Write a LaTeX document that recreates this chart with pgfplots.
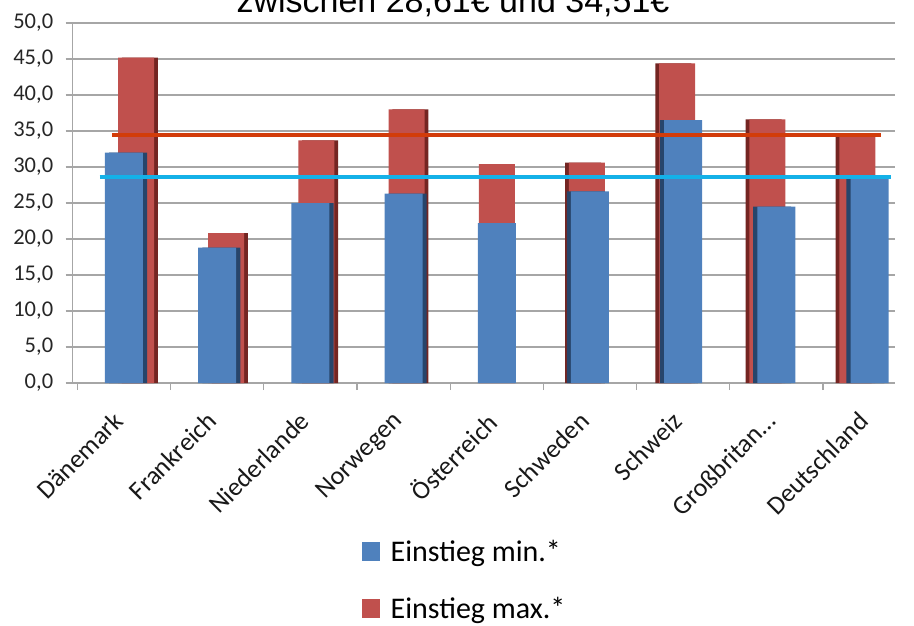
\documentclass[border=0pt]{standalone}
\usepackage{fontspec}
\setmainfont{Carlito}
\newfontfamily\titlefont{Liberation Sans}
\usepackage{pgfplots}
\pgfplotsset{compat=1.18}
\definecolor{barblue}{HTML}{4F81BD}
\definecolor{barbluedark}{HTML}{27456B}
\definecolor{barred}{HTML}{C0504D}
\definecolor{barreddark}{HTML}{742522}
\definecolor{linered}{HTML}{D23C0A}
\definecolor{linecyan}{HTML}{14B1E8}
\definecolor{gridgrey}{HTML}{A6A6A6}
\begin{document}
\begin{tikzpicture}[x=1pt,y=1pt]
\path[use as bounding box] (0,0) rectangle (914,625);
\node[font=\titlefont\fontsize{34}{40}\selectfont, anchor=base, inner sep=0pt] at (453,612) {zwischen 28,61€ und 34,51€};
\begin{axis}[
  at={(72.7pt,242pt)}, anchor=south west,
  scale only axis, width=822pt, height=360pt,
  xmin=-0.55, xmax=8.27, ymin=0, ymax=50,
  ytick={0,5,...,50},
  xtick={0,...,8},
  xticklabels={Dänemark, Frankreich, Niederlande, Norwegen, Österreich, Schweden, Schweiz, Großbritan…, Deutschland},
  minor xtick={-0.5,0.5,...,7.5},
  ymajorgrids, grid style={gridgrey, line width=1.3pt},
  axis x line*=bottom, axis y line*=left,
  axis line style={gridgrey, line width=1.3pt},
  tick align=outside, major tick length=7pt, minor tick length=7pt,
  tick style={gridgrey, line width=1.3pt},
  major x tick style={draw=none},
  /pgf/number format/assume math mode=true,
  yticklabel style={/pgf/number format/fixed, /pgf/number format/fixed zerofill, /pgf/number format/precision=1, /pgf/number format/use comma, font=\fontsize{22.5}{26}\selectfont, text=black!85, xshift=-9pt},
  xticklabel style={xshift=-12pt, yshift=-20pt, rotate=45, anchor=north east, font=\fontsize{26}{31}\selectfont, text=black!90, inner sep=0pt},
  legend style={at={(0.352,-0.43)}, anchor=north west, draw=none, fill=none, font=\fontsize{30}{36}\selectfont, row sep=30pt, inner sep=0pt, /tikz/every odd column/.append style={column sep=9pt}},
  legend cell align=left,
]
\addlegendimage{legend image code/.code={\fill[barblue] (0pt,-9pt) rectangle (17pt,9pt);}}
\addlegendentry{Einstieg min.*}
\addlegendimage{legend image code/.code={\fill[barred] (0pt,-9pt) rectangle (17pt,9pt);}}
\addlegendentry{Einstieg max.*}
% red bars: side faces then front faces
\addplot[ybar, bar shift=0pt, bar width=36pt, fill=barreddark, draw=none, forget plot] coordinates {
(0.17,45.2) (1.1375,20.8) (2.105,33.7) (3.0725,38.0) (4.9275,30.6) (5.895,44.4) (6.8625,36.6) (7.83,34.51)};
\addplot[ybar, bar shift=0pt, bar width=36pt, fill=barred, draw=none, forget plot] coordinates {
(0.13,45.2) (1.0975,20.8) (2.065,33.7) (3.0325,38.0) (4,30.4) (4.9675,30.6) (5.935,44.4) (6.9025,36.6) (7.87,34.51)};
% blue bars: side faces then front faces
\addplot[ybar, bar shift=0pt, bar width=38pt, fill=barbluedark, draw=none, forget plot] coordinates {
(0.045,32.0) (1.045,18.8) (2.045,25.0) (3.045,26.3) (4.955,26.6) (5.955,36.5) (6.955,24.5) (7.955,28.61)};
\addplot[ybar, bar shift=0pt, bar width=38pt, fill=barblue, draw=none, forget plot] coordinates {
(0,32.0) (1,18.8) (2,25.0) (3,26.3) (4,22.2) (5,26.6) (6,36.5) (7,24.5) (8,28.61)};
% reference lines (Deutschland min and max)
\addplot[linered, line width=4pt, forget plot] coordinates {(-0.13,34.51) (8.12,34.51)};
\addplot[linecyan, line width=4.5pt, forget plot] coordinates {(-0.26,28.61) (8.23,28.61)};
\end{axis}
\end{tikzpicture}
\end{document}
